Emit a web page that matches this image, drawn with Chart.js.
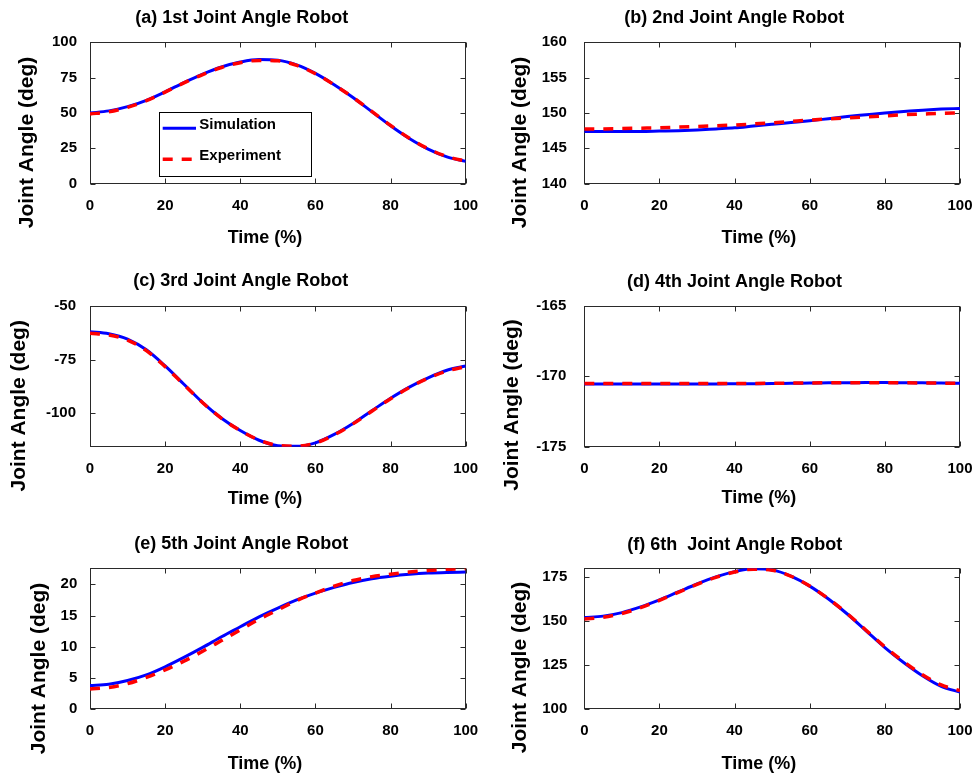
<!DOCTYPE html>
<html>
<head>
<meta charset="utf-8">
<title>Joint Angle Robot</title>
<script src="https://cdn.jsdelivr.net/npm/chart.js@4.4.0/dist/chart.umd.min.js"></script>
<style>
  html, body { margin: 0; padding: 0; background: #fff; }
  #wrap { position: relative; width: 978px; height: 774px; overflow: hidden; }
  #wrap canvas { position: absolute; }
</style>
</head>
<body>
<div id="wrap"></div>
<script>
// time axis (% of motion), sampled every 5 %
const timePct = [0, 5, 10, 15, 20, 25, 30, 35, 40, 45, 50, 55, 60, 65, 70, 75, 80, 85, 90, 95, 100];
const timeTicks = [0, 20, 40, 60, 80, 100];

// joint 1
const simJ1 = [50.0, 51.5, 54.5, 59.0, 65.0, 71.5, 77.5, 82.5, 86.0, 87.8, 87.3, 84.0, 78.0, 70.0, 61.0, 51.0, 41.0, 32.0, 24.5, 19.0, 15.8];
const expJ1 = [49.3, 50.8, 54.0, 58.7, 64.8, 71.3, 77.2, 82.2, 85.6, 87.2, 86.9, 83.7, 77.8, 69.9, 61.0, 51.1, 41.2, 32.2, 24.7, 19.2, 16.0];
const ticksJ1 = [0, 25, 50, 75, 100];

// joint 2
const simJ2 = [147.4, 147.4, 147.4, 147.4, 147.45, 147.5, 147.6, 147.75, 147.9, 148.15, 148.4, 148.65, 148.9, 149.2, 149.5, 149.75, 150.0, 150.2, 150.4, 150.55, 150.65];
const expJ2 = [147.75, 147.75, 147.8, 147.85, 147.9, 148.0, 148.1, 148.2, 148.3, 148.45, 148.6, 148.8, 149.0, 149.15, 149.3, 149.45, 149.6, 149.75, 149.85, 149.95, 150.0];
const ticksJ2 = [140, 145, 150, 155, 160];

// joint 3
const simJ3 = [-62.1, -63.0, -65.5, -70.5, -78.0, -86.5, -95.0, -102.3, -108.0, -112.5, -115.0, -115.3, -113.7, -109.8, -104.7, -98.8, -93.0, -87.8, -83.5, -80.0, -78.0];
const expJ3 = [-62.8, -63.6, -66.0, -70.9, -78.3, -86.7, -95.1, -102.3, -108.0, -112.4, -114.9, -115.3, -113.8, -110.0, -104.9, -99.0, -93.2, -88.0, -83.7, -80.3, -78.3];
const ticksJ3 = [-100, -75, -50];

// joint 4
const simJ4 = [-170.55, -170.55, -170.55, -170.55, -170.55, -170.55, -170.55, -170.55, -170.54, -170.53, -170.52, -170.5, -170.49, -170.47, -170.46, -170.45, -170.45, -170.46, -170.47, -170.49, -170.5];
const expJ4 = [-170.52, -170.52, -170.52, -170.52, -170.52, -170.52, -170.52, -170.52, -170.52, -170.51, -170.5, -170.49, -170.48, -170.47, -170.46, -170.46, -170.46, -170.47, -170.48, -170.49, -170.5];
const ticksJ4 = [-175, -170, -165];

// joint 5
const simJ5 = [3.8, 4.0, 4.6, 5.5, 6.8, 8.3, 9.9, 11.6, 13.2, 14.8, 16.2, 17.5, 18.6, 19.5, 20.3, 20.9, 21.3, 21.6, 21.8, 21.9, 21.95];
const expJ5 = [3.25, 3.5, 4.1, 5.1, 6.3, 7.7, 9.3, 11.0, 12.7, 14.4, 15.9, 17.4, 18.6, 19.7, 20.6, 21.2, 21.6, 21.95, 22.2, 22.4, 22.5];
const ticksJ5 = [0, 5, 10, 15, 20];

// joint 6
const simJ6 = [152.0, 152.8, 154.8, 158.0, 162.0, 166.5, 171.0, 175.0, 178.0, 179.7, 179.0, 175.5, 169.8, 162.5, 154.0, 144.5, 135.0, 126.5, 119.0, 113.0, 109.7];
const expJ6 = [151.2, 152.2, 154.3, 157.6, 161.7, 166.3, 170.8, 174.8, 177.8, 179.4, 178.8, 175.4, 169.8, 162.6, 154.2, 144.8, 135.4, 127.0, 119.6, 113.8, 110.6];
const ticksJ6 = [100, 125, 150, 175];

const seriesNames = ['Simulation', 'Experiment'];
const panelTitles = [
  '(a) 1st Joint Angle Robot', '(b) 2nd Joint Angle Robot',
  '(c) 3rd Joint Angle Robot', '(d) 4th Joint Angle Robot',
  '(e) 5th Joint Angle Robot', '(f) 6th  Joint Angle Robot'
];
const xTitle = 'Time (%)';
const yTitle = 'Joint Angle (deg)';

const FONT = '"Liberation Sans", Arial, Helvetica, sans-serif';
// canvases are a bit wider than a grid cell (transparent, they may overlap)
// so the "100" tick label never squeezes the plot area
const W = 540, H = 258;

// box, inward tick marks on all four sides
const frameTicks = {
  id: 'frameTicks',
  beforeDatasetsDraw(chart) {
    const { ctx, chartArea: a, scales } = chart;
    const L = Math.round(a.left) + 0.5, R = Math.round(a.right) - 0.5;
    const T = Math.round(a.top) + 0.5, B = Math.round(a.bottom) - 0.5;
    ctx.save();
    ctx.strokeStyle = '#2a2a2a';
    ctx.lineWidth = 1;
    ctx.strokeRect(L, T, R - L, B - T);
    ctx.beginPath();
    scales.x.ticks.forEach(t => {
      const px = Math.round(scales.x.getPixelForValue(t.value)) + 0.5;
      ctx.moveTo(px, B); ctx.lineTo(px, B - 5);
      ctx.moveTo(px, T); ctx.lineTo(px, T + 5);
    });
    scales.y.ticks.forEach(t => {
      const py = Math.round(scales.y.getPixelForValue(t.value)) + 0.5;
      ctx.moveTo(L, py); ctx.lineTo(L + 5, py);
      ctx.moveTo(R, py); ctx.lineTo(R - 5, py);
    });
    ctx.stroke();
    ctx.restore();
  }
};

// panel title and axis titles
const panelText = {
  id: 'panelText',
  afterDraw(chart, args, o) {
    const ctx = chart.ctx;
    ctx.save();
    ctx.fillStyle = '#000';
    ctx.textAlign = 'center';
    ctx.textBaseline = 'middle';
    ctx.font = 'bold 18px ' + FONT;
    ctx.fillText(o.title, o.titleAt[0], o.titleAt[1]);
    ctx.fillText(o.xLabel, o.xLabelAt[0], o.xLabelAt[1]);
    ctx.translate(o.yLabelAt[0], o.yLabelAt[1]);
    ctx.rotate(-Math.PI / 2);
    ctx.font = 'bold 21px ' + FONT;
    ctx.fillText(o.yLabel, 0, 0);
    ctx.restore();
  }
};

// boxed legend inside the plot (first panel only)
const boxLegend = {
  id: 'boxLegend',
  afterDraw(chart, args, o) {
    if (!o.box) return;
    const ctx = chart.ctx;
    const [x0, y0, x1, y1] = o.box;
    ctx.save();
    ctx.fillStyle = '#fff';
    ctx.fillRect(x0, y0, x1 - x0, y1 - y0);
    ctx.strokeStyle = '#000';
    ctx.lineWidth = 1;
    ctx.strokeRect(Math.round(x0) + 0.5, Math.round(y0) + 0.5, Math.round(x1 - x0), Math.round(y1 - y0));
    chart.data.datasets.forEach((ds, i) => {
      const y = o.rows[i];
      ctx.beginPath();
      ctx.strokeStyle = ds.borderColor;
      ctx.lineWidth = ds.borderWidth;
      ctx.setLineDash(ds.borderDash || []);
      ctx.moveTo(o.lineX[0], y);
      ctx.lineTo(o.lineX[1], y);
      ctx.stroke();
      ctx.setLineDash([]);
      ctx.fillStyle = '#000';
      ctx.font = 'bold 15px ' + FONT;
      ctx.textAlign = 'left';
      ctx.textBaseline = 'middle';
      ctx.fillText(ds.label, o.textX, y - 3.5);
    });
    ctx.restore();
  }
};

const panels = [
  { sim: simJ1, exp: expJ1, ticks: ticksJ1, min: 0, max: 100, pos: [0, 0], plot: [90, 42.3, 465.7, 183.7], pad: 13,
    titleAt: [241.7, 18.3], xLabelAt: [265, 238.3], yLabelAt: [27, 142.5],
    legend: { box: [159.3, 111.7, 311.7, 176], lineX: [162.7, 196], rows: [128.3, 159.3], textX: 199.3 } },
  { sim: simJ2, exp: expJ2, ticks: ticksJ2, min: 140, max: 160, pos: [489, 0], plot: [95.3, 42.3, 471, 183.7], pad: 17.5,
    titleAt: [245.3, 18.3], xLabelAt: [269.8, 238.3], yLabelAt: [31.5, 142.5] },
  { sim: simJ3, exp: expJ3, ticks: ticksJ3, min: -115.5, max: -50, pos: [0, 258], plot: [90, 47.7, 465.7, 188.7], pad: 14,
    titleAt: [240.8, 22.7], xLabelAt: [265, 241.3], yLabelAt: [19.5, 147.8] },
  { sim: simJ4, exp: expJ4, ticks: ticksJ4, min: -175, max: -165, pos: [489, 258], plot: [95.3, 47.7, 471, 188.7], pad: 18,
    titleAt: [245.5, 23.7], xLabelAt: [269.8, 240.3], yLabelAt: [23.5, 147] },
  { sim: simJ5, exp: expJ5, ticks: ticksJ5, min: 0, max: 22.56, pos: [0, 516], plot: [90, 52.3, 465.7, 193.3], pad: 12.7,
    titleAt: [241.3, 28], xLabelAt: [265, 248.5], yLabelAt: [39, 152.5] },
  { sim: simJ6, exp: expJ6, ticks: ticksJ6, min: 100, max: 179.9, pos: [489, 516], plot: [95.3, 52.3, 471, 193.3], pad: 17,
    titleAt: [245.7, 29], xLabelAt: [269.8, 248.5], yLabelAt: [31.5, 151.5] }
];

const tickFont = { family: FONT, size: 15, weight: 'bold' };
const wrap = document.getElementById('wrap');

panels.forEach((p, i) => {
  const canvas = document.createElement('canvas');
  canvas.width = W;
  canvas.height = H;
  canvas.style.left = p.pos[0] + 'px';
  canvas.style.top = p.pos[1] + 'px';
  canvas.style.width = W + 'px';
  canvas.style.height = H + 'px';
  wrap.appendChild(canvas);

  const toPoints = arr => arr.map((v, k) => ({ x: timePct[k], y: v }));

  new Chart(canvas.getContext('2d'), {
    type: 'line',
    data: {
      datasets: [
        {
          label: seriesNames[0],
          data: toPoints(p.sim),
          borderColor: '#0000ff',
          borderWidth: 3,
          pointRadius: 0,
          cubicInterpolationMode: 'monotone',
          order: 1
        },
        {
          label: seriesNames[1],
          data: toPoints(p.exp),
          borderColor: '#ff0000',
          borderWidth: 3.5,
          borderDash: [10, 9],
          pointRadius: 0,
          cubicInterpolationMode: 'monotone',
          order: 0
        }
      ]
    },
    options: {
      responsive: false,
      animation: false,
      events: [],
      layout: { padding: { left: 0, top: p.plot[1], right: W - p.plot[2], bottom: 0 } },
      plugins: {
        legend: { display: false },
        tooltip: { enabled: false },
        title: { display: false },
        panelText: {
          title: panelTitles[i], titleAt: p.titleAt,
          xLabel: xTitle, xLabelAt: p.xLabelAt,
          yLabel: yTitle, yLabelAt: p.yLabelAt
        },
        boxLegend: p.legend || {}
      },
      scales: {
        x: {
          type: 'linear',
          min: 0,
          max: 100,
          afterBuildTicks: s => { s.ticks = timeTicks.map(v => ({ value: v })); },
          afterFit: s => { s.height = H - p.plot[3]; },
          grid: { display: false, drawTicks: false },
          border: { display: false },
          ticks: { padding: 13, color: '#000', font: tickFont, maxRotation: 0, autoSkip: false, callback: v => String(v) }
        },
        y: {
          type: 'linear',
          min: p.min,
          max: p.max,
          afterBuildTicks: s => { s.ticks = p.ticks.map(v => ({ value: v })); },
          afterFit: s => { s.width = p.plot[0]; },
          grid: { display: false, drawTicks: false },
          border: { display: false },
          ticks: { padding: p.pad, color: '#000', font: tickFont, autoSkip: false, callback: v => String(v) }
        }
      }
    },
    plugins: [frameTicks, panelText, boxLegend]
  });
});
</script>
</body>
</html>
